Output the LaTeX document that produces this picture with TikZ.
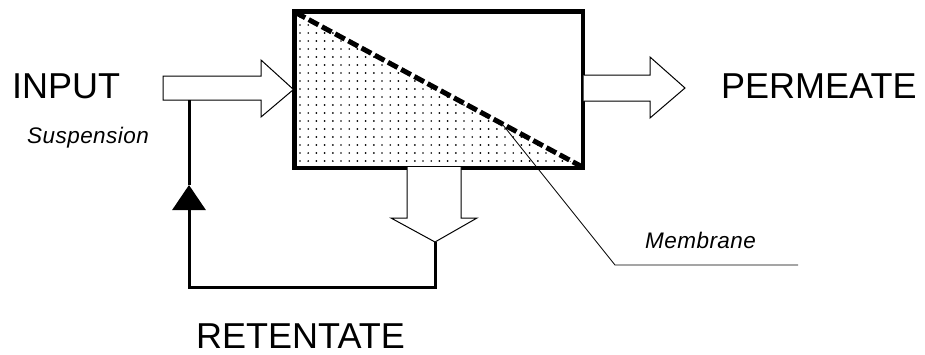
\documentclass[tikz,border=0pt]{standalone}
\usepackage{fontspec}
\setmainfont{Liberation Sans}
\usetikzlibrary{arrows.meta}
\begin{document}
\begin{tikzpicture}[x=1pt,y=-1pt,
  bigtext/.style={font=\fontsize{36}{40}\selectfont, inner sep=0pt, anchor=base west},
  smalltext/.style={font=\fontsize{22.5}{26}\selectfont\itshape\addfontfeatures{LetterSpace=2}, inner sep=0pt, anchor=base west},
  blockarrow/.style={draw=black, line width=1pt, fill=white, line join=miter},
  flow/.style={line width=3pt},
  leader/.style={line width=0.8pt}]
\useasboundingbox (0,0) rectangle (925,354);
% membrane module
\node[draw, line width=3pt, minimum width=287pt, minimum height=155pt, inner sep=0pt] (box) at (438.5,89.5) {};
% dotted retentate side
\begin{scope}
  \clip (box.north west) -- (box.south west) -- (box.south east) -- cycle;
  \foreach \j in {0,...,19} {
    \foreach \i in {0,...,35} {
      \fill ({300+8.2*\i},{17+8*\j}) circle (0.95pt);
    }
  }
\end{scope}
\draw[line width=3pt] (box.north west) rectangle (box.south east);
% membrane (dashed diagonal)
\draw[line width=5pt, dash pattern=on 11pt off 4pt] ([shift={(2,2)}]box.north west) -- ([shift={(-2,-2)}]box.south east);
% input arrow
\coordinate (inTip) at (box.west);
\draw[blockarrow] (163,76) -- (261,76) -- (261,60) -- (inTip) -- (261,117) -- (261,100) -- (163,100) -- cycle;
% permeate arrow
\coordinate (peTip) at (685,88);
\draw[blockarrow] (box.east |- 0,75) -- (650,75) -- (650,57) -- (peTip) -- (650,118) -- (650,101) -- (box.east |- 0,101);
% retentate arrow
\coordinate (reTip) at (435,242);
\draw[blockarrow] (407,167) -- (407,218) -- (391,218) -- (reTip) -- (477,218) -- (461,218) -- (461,167);
% recycle loop
\coordinate (loopBR) at (435,287);
\coordinate (loopBL) at (189,287);
\coordinate (loopMid) at (189,185);
\coordinate (loopTop) at (189,100);
\draw[flow, line join=miter] (reTip) -- (loopBR) -- (loopBL) -- (189,212);
\draw[flow, -{Triangle[width=33pt,length=25pt]}] (189,215) -- (loopMid);
\draw[flow] (loopMid) -- (loopTop);
% membrane leader
\coordinate (memA) at (503,125);
\coordinate (memB) at (615,265);
\coordinate (memC) at (798,265);
\draw[leader] (memA) -- (memB) -- (memC);
% labels
\node[bigtext] (input) at (12,98) {INPUT};
\node[bigtext] (permeate) at (721,98) {PERMEATE};
\node[bigtext] (retentate) at (196,348) {RETENTATE};
\node[smalltext] (susp) at (27,143) {Suspension};
\node[smalltext] (memb) at (645,248) {Membrane};
\end{tikzpicture}
\end{document}
